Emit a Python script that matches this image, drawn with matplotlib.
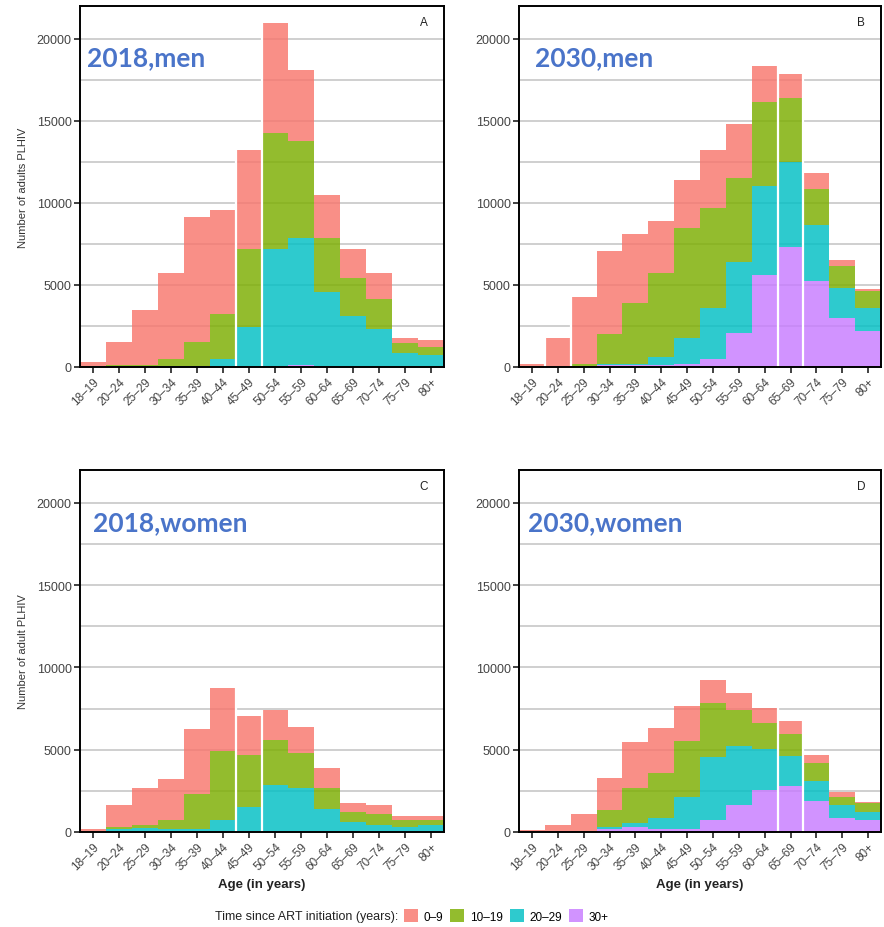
import numpy as np
from matplotlib import pyplot as plt
from matplotlib.patches import Patch

ages = ['18–19', '20–24', '25–29', '30–34', '35–39', '40–44', '45–49',
        '50–54', '55–59', '60–64', '65–69', '70–74', '75–79', '80+']
groups = ['0–9', '10–19', '20–29', '30+']
colors = ['#F8766D', '#7CAE00', '#00BFC4', '#C77CFF']

# values per segment, stacking order from top: 0-9, 10-19, 20-29, 30+
men_2018_0_9 = [240, 1380, 3340, 5260, 7620, 6310, 6030, 6700, 4320, 2620, 1730, 1610, 290, 400]
men_2018_10_19 = [30, 100, 100, 410, 1460, 2760, 4730, 7100, 5910, 3290, 2350, 1810, 610, 510]
men_2018_20_29 = [30, 40, 50, 60, 60, 470, 2440, 7150, 7740, 4520, 3080, 2300, 865, 705]
men_2018_30 = [0, 0, 0, 0, 0, 0, 0, 20, 100, 30, 10, 10, 5, 5]

men_2030_0_9 = [200, 1770, 4060, 5020, 4200, 3160, 2880, 3550, 3290, 2240, 1440, 940, 370, 120]
men_2030_10_19 = [0, 0, 200, 1830, 3700, 5120, 6700, 6080, 5110, 5110, 3900, 2230, 1320, 1040]
men_2030_20_29 = [0, 0, 0, 100, 100, 510, 1590, 3100, 4330, 5390, 5180, 3410, 1830, 1420]
men_2030_30 = [0, 0, 0, 100, 100, 100, 200, 510, 2070, 5620, 7310, 5220, 2980, 2190]

women_2018_0_9 = [180, 1320, 2230, 2500, 3960, 3820, 2350, 1850, 1610, 1180, 550, 520, 260, 260]
women_2018_10_19 = [10, 140, 170, 510, 2090, 4180, 3150, 2740, 2090, 1300, 630, 690, 410, 280]
women_2018_20_29 = [10, 160, 260, 200, 200, 730, 1520, 2830, 2690, 1370, 600, 420, 290, 420]
women_2018_30 = [0, 0, 0, 0, 0, 0, 0, 10, 10, 10, 10, 10, 10, 10]

women_2030_0_9 = [120, 430, 1060, 1970, 2780, 2780, 2110, 1440, 1040, 930, 810, 450, 310, 60]
women_2030_10_19 = [0, 0, 60, 1040, 2090, 2740, 3390, 3290, 2210, 1580, 1320, 1110, 510, 510]
women_2030_20_29 = [0, 0, 0, 100, 270, 630, 1950, 3820, 3570, 2500, 1830, 1220, 790, 530]
women_2030_30 = [0, 0, 0, 200, 300, 200, 200, 710, 1630, 2540, 2800, 1890, 830, 710]

panels = [
    ('2018,men', 'A', [men_2018_0_9, men_2018_10_19, men_2018_20_29, men_2018_30], [5, 6]),
    ('2030,men', 'B', [men_2030_0_9, men_2030_10_19, men_2030_20_29, men_2030_30], [0, 1, 9, 10]),
    ('2018,women', 'C', [women_2018_0_9, women_2018_10_19, women_2018_20_29, women_2018_30], [5, 6]),
    ('2030,women', 'D', [women_2030_0_9, women_2030_10_19, women_2030_20_29, women_2030_30], [9, 10]),
]

W, H = 884, 928
fig = plt.figure(figsize=(W / 100, H / 100), dpi=100)
boxes = [(80, 7, 444, 368), (519, 7, 881, 368), (80, 471, 444, 833), (519, 471, 881, 833)]
title_x = [0.02, 0.044, 0.036, 0.025]

x = np.arange(len(ages))
for i, (title, letter, series, gaps) in enumerate(panels):
    l, t, r, b = boxes[i]
    ax = fig.add_axes([l / W, 1 - b / H, (r - l) / W, (b - t) / H])
    for y in np.arange(0, 22001, 2500):
        ax.axhline(y, color='#cfcfcf', lw=1.4, zorder=0)
    bottom = np.zeros(len(ages))
    # bottom to top: 30+, 20-29, 10-19, 0-9
    for k in [3, 2, 1, 0]:
        vals = np.array(series[k], dtype=float)
        ax.bar(x, vals, width=1.0, bottom=bottom, color=colors[k], alpha=0.82,
               linewidth=0, zorder=1)
        bottom += vals
    for g in gaps:
        ax.vlines(g + 0.5, 0, max(bottom[g], bottom[g + 1]), color='white', lw=1.6, zorder=2)
    ax.set_xlim(-0.5, len(ages) - 0.5)
    ax.set_ylim(0, 22000)
    ax.set_yticks([0, 5000, 10000, 15000, 20000])
    ax.set_xticks(x)
    ax.set_xticklabels(ages, rotation=45, ha='right', rotation_mode='anchor',
                       fontsize=8.5, color='#444444', family='Liberation Sans')
    for lab in ax.get_yticklabels():
        lab.set_fontsize(9)
        lab.set_color('#444444')
        lab.set_family('Liberation Sans')
    ax.tick_params(axis='both', length=4, width=1.3, color='#333333', pad=2)
    for s in ax.spines.values():
        s.set_linewidth(1.4)
        s.set_color('black')
    ax.text(title_x[i], 0.857, title, transform=ax.transAxes, fontsize=19, fontweight='bold',
            color='#4A74C9', family='Lato', va='center', ha='left')
    ax.text(0.945, 0.957, letter, transform=ax.transAxes, fontsize=8.5, color='#222222',
            family='Liberation Sans', va='center', ha='center')
    if i in (0, 2):
        ax.set_ylabel('Number of adults PLHIV' if i == 0 else 'Number of adult PLHIV',
                      fontsize=8, color='#333333', family='Liberation Sans', labelpad=6)
    if i in (2, 3):
        ax.set_xlabel('Age (in years)', fontsize=9.5, fontweight='bold', color='#222222',
                      family='Liberation Sans', labelpad=4)

fig.text(215 / W, 1 - 917 / H, 'Time since ART initiation (years):', fontsize=9,
         color='#222222', family='Liberation Sans', va='center', ha='left')
handles = [Patch(facecolor=c, alpha=0.82, edgecolor='none') for c in colors]
fig.legend(handles, groups, loc='center left', bbox_to_anchor=(404 / W, 1 - 917 / H),
           ncol=4, frameon=False, handlelength=1.2, handleheight=1.3, columnspacing=0.6,
           handletextpad=0.45, borderaxespad=0, borderpad=0,
           prop={'family': 'Liberation Sans', 'size': 8.5})

fig.savefig('out.png', dpi=100)
